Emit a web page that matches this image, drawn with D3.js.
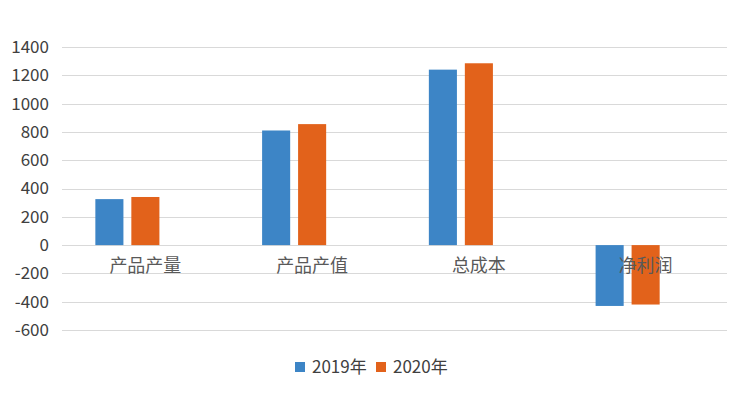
<!DOCTYPE html>
<html>
<head>
<meta charset="utf-8">
<script src="https://cdn.jsdelivr.net/npm/d3@7"></script>
<style>
  body { margin: 0; background: #fff; }
  svg { display: block; font-family: "Noto Sans CJK SC", "Noto Sans", sans-serif; }
</style>
</head>
<body>
<div id="chart"></div>
<script>
// chart data
const categories = ['产品产量', '产品产值', '总成本', '净利润'];
const seriesNames = ['2019年', '2020年'];
const values2019 = [325, 810, 1240, -430];
const values2020 = [340, 855, 1285, -420];
const yTicks = [-600, -400, -200, 0, 200, 400, 600, 800, 1000, 1200, 1400];
const colors = ['#3d85c6', '#e2621b'];

function draw () {
  const svgWidth = 747;
  const svgHeight = 394;

  const svg = d3.select('#chart')
    .append('svg')
    .attr('width', svgWidth)
    .attr('height', svgHeight);

  const x0 = d3.scaleBand()
    .domain(categories)
    .range([62, 729])
    .paddingInner(0.4)
    .paddingOuter(0.2);

  // three slots per group, the third one stays empty
  const x1 = d3.scaleBand()
    .domain([0, 1, 2])
    .range([0, x0.bandwidth()])
    .paddingInner(0.22);

  const y = d3.scaleLinear()
    .domain([-600, 1400])
    .range([330, 47]);

  // gridlines
  svg.append('g')
    .selectAll('line')
    .data(yTicks)
    .join('line')
    .attr('x1', 62)
    .attr('x2', 727)
    .attr('y1', d => Math.round(y(d)) + 0.5)
    .attr('y2', d => Math.round(y(d)) + 0.5)
    .attr('stroke', '#d9d9d9')
    .attr('stroke-width', 1);

  // y axis labels
  const yAxis = svg.append('g')
    .attr('transform', 'translate(62,0)')
    .call(d3.axisLeft(y)
      .tickValues(yTicks)
      .tickFormat(d => String(d))
      .tickSize(0)
      .tickPadding(13));
  yAxis.select('.domain').remove();
  yAxis.selectAll('text')
    .attr('fill', '#404040')
    .style('font-size', '17px')
    .style('font-family', '"Noto Sans CJK SC", sans-serif');

  // bars
  const rows = categories.map((c, i) => ({ cat: c, vals: [values2019[i], values2020[i]] }));
  const groups = svg.append('g')
    .selectAll('g')
    .data(rows)
    .join('g')
    .attr('transform', d => `translate(${x0(d.cat)},0)`);

  groups.selectAll('rect')
    .data(d => d.vals.map((v, k) => ({ v, k })))
    .join('rect')
    .attr('x', d => x1(d.k))
    .attr('y', d => y(Math.max(0, d.v)))
    .attr('width', x1.bandwidth())
    .attr('height', d => Math.abs(y(d.v) - y(0)))
    .attr('fill', d => colors[d.k]);

  // category labels, sitting just below the zero line
  svg.append('g')
    .selectAll('text')
    .data(categories)
    .join('text')
    .attr('x', d => x0(d) + x0.bandwidth() / 2)
    .attr('y', y(0) + 27)
    .attr('text-anchor', 'middle')
    .attr('fill', '#595959')
    .style('font-size', '18px')
    .text(d => d);

  // legend
  const legendX = [295, 376];
  const legend = svg.append('g')
    .selectAll('g')
    .data(seriesNames)
    .join('g')
    .attr('transform', (d, i) => `translate(${legendX[i]},362)`);
  legend.append('rect')
    .attr('width', 10)
    .attr('height', 10)
    .attr('fill', (d, i) => colors[i]);
  legend.append('text')
    .attr('x', 17)
    .attr('y', 11)
    .attr('fill', '#404040')
    .style('font-size', '17px')
    .text(d => d);
}

draw();
</script>
</body>
</html>
